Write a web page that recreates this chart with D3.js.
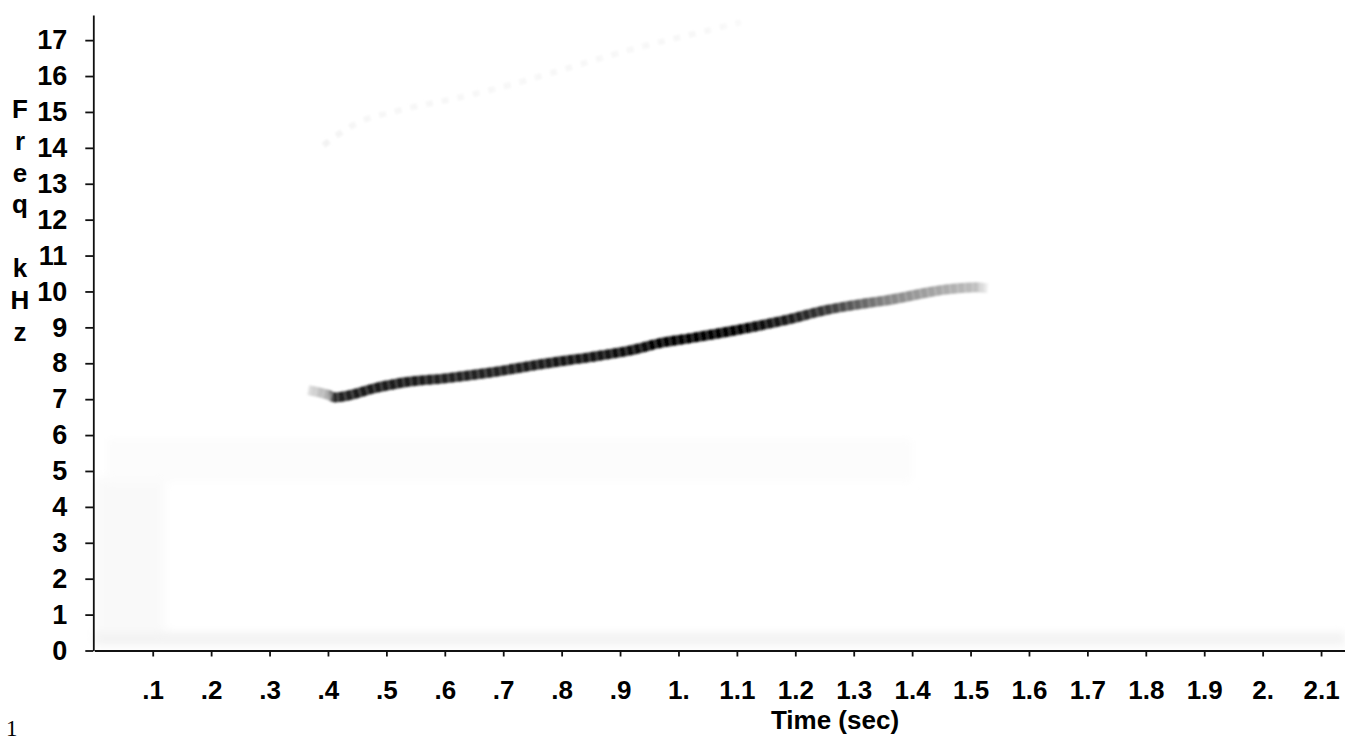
<!DOCTYPE html>
<html>
<head>
<meta charset="utf-8">
<script src="https://cdn.jsdelivr.net/npm/d3@7"></script>
<style>
  html, body { margin: 0; padding: 0; background: #fff; }
  svg { display: block; }
  .tick text, .lbl { font-family: "Liberation Sans", Arial, sans-serif; font-weight: bold; fill: #000; }
</style>
</head>
<body>
<svg id="chart" width="1345" height="740"></svg>
<script>
// Frequency axis (kHz) and time axis (s)
const freqTicks = [0, 1, 2, 3, 4, 5, 6, 7, 8, 9, 10, 11, 12, 13, 14, 15, 16, 17];
const timeTicks = [0.1, 0.2, 0.3, 0.4, 0.5, 0.6, 0.7, 0.8, 0.9, 1.0, 1.1, 1.2, 1.3, 1.4, 1.5, 1.6, 1.7, 1.8, 1.9, 2.0, 2.1];
const timeTickLabels = [".1", ".2", ".3", ".4", ".5", ".6", ".7", ".8", ".9", "1.", "1.1", "1.2", "1.3", "1.4", "1.5", "1.6", "1.7", "1.8", "1.9", "2.", "2.1"];
const yTitleChars = ["F", "r", "e", "q", "", "k", "H", "z"];

// Fundamental of the call: time (s), peak frequency (kHz), relative energy (0..1)
const callTime  = [0.366, 0.400, 0.412, 0.486, 0.532, 0.601, 0.669, 0.776, 0.849, 0.918, 0.974, 1.021, 1.098, 1.183, 1.252, 1.321, 1.355, 1.461, 1.509, 1.530];
const callFreq  = [7.25, 7.12, 7.05, 7.33, 7.47, 7.58, 7.72, 8.00, 8.17, 8.36, 8.58, 8.70, 8.92, 9.20, 9.48, 9.67, 9.75, 10.06, 10.12, 10.09];
const callLevel = [0.12, 0.32, 0.86, 0.90, 0.90, 0.86, 0.86, 0.90, 0.92, 0.94, 1.00, 1.00, 1.00, 0.90, 0.78, 0.58, 0.48, 0.32, 0.25, 0.04];

// Faint second harmonic
const harmTime  = [0.392, 0.450, 0.524, 0.627, 0.729, 0.798, 0.935, 1.038, 1.107];
const harmFreq  = [14.07, 14.69, 15.05, 15.41, 15.83, 16.16, 16.81, 17.22, 17.50];
const harmLevel = [0.05, 0.035, 0.035, 0.03, 0.03, 0.03, 0.03, 0.03, 0.025];

const svg = d3.select("#chart");
const x = d3.scaleLinear().domain([0, 2.141]).range([94.3, 1345]);
const y = d3.scaleLinear().domain([0, 17.7]).range([650.5, 15]);
const grey = d3.interpolateRgb("#ffffff", "#000000");

const defs = svg.append("defs");
defs.append("filter").attr("id", "soft")
  .attr("x", "-5%").attr("y", "-50%").attr("width", "110%").attr("height", "200%")
  .append("feGaussianBlur").attr("stdDeviation", 1.2);
defs.append("filter").attr("id", "haze")
  .attr("x", "-10%").attr("y", "-10%").attr("width", "120%").attr("height", "120%")
  .append("feGaussianBlur").attr("stdDeviation", 4);

// Background noise floor
const noise = svg.append("g").attr("filter", "url(#haze)");
noise.append("rect")
  .attr("x", x(0)).attr("width", x(2.141) - x(0))
  .attr("y", y(0.5)).attr("height", y(0.15) - y(0.5))
  .attr("fill", "#f2f2f2");
noise.append("rect")
  .attr("x", x(0)).attr("width", x(0.12) - x(0))
  .attr("y", y(4.8)).attr("height", y(0.5) - y(4.8))
  .attr("fill", "#f9f9f9");
noise.append("rect")
  .attr("x", x(0.02)).attr("width", x(1.4) - x(0.02))
  .attr("y", y(5.9)).attr("height", y(4.7) - y(5.9))
  .attr("fill", "#fcfcfc");

function trace(id, times, freqs, levels, width, dash) {
  const grad = defs.append("linearGradient").attr("id", id)
    .attr("gradientUnits", "userSpaceOnUse")
    .attr("x1", x(times[0])).attr("x2", x(times[times.length - 1]))
    .attr("y1", 0).attr("y2", 0);
  const span = x(times[times.length - 1]) - x(times[0]);
  times.forEach((t, i) => {
    grad.append("stop")
      .attr("offset", (x(t) - x(times[0])) / span)
      .attr("stop-color", grey(levels[i]));
  });
  const line = d3.line().x((d, i) => x(times[i])).y(d => y(d)).curve(d3.curveMonotoneX);
  const g = svg.append("g").attr("filter", "url(#soft)");
  g.append("path")
    .attr("d", line(freqs))
    .attr("fill", "none")
    .attr("stroke", `url(#${id})`)
    .attr("stroke-width", width)
    .attr("stroke-dasharray", dash)
    .attr("stroke-linecap", "butt");
  // frame striations of the spectrogram
  g.append("path")
    .attr("d", line(freqs))
    .attr("fill", "none")
    .attr("stroke", "#fff")
    .attr("stroke-opacity", 0.25)
    .attr("stroke-width", width + 1)
    .attr("stroke-dasharray", "1.5 6");
}

trace("harm", harmTime, harmFreq, harmLevel, 6, "7 9");
trace("call", callTime, callFreq, callLevel, 10, null);

// Axes
const yAxis = d3.axisLeft(y).tickValues(freqTicks).tickFormat(d3.format("d"))
  .tickSize(8).tickSizeOuter(0).tickPadding(18);
const gy = svg.append("g").attr("transform", `translate(${x(0) - 1},0)`).call(yAxis);
gy.selectAll("text").attr("font-size", 27);

const xAxis = d3.axisBottom(x).tickValues(timeTicks)
  .tickFormat((d, i) => timeTickLabels[i])
  .tickSize(6).tickSizeOuter(0).tickPadding(24);
const gx = svg.append("g").attr("transform", `translate(0,${y(0)})`).call(xAxis);
gx.selectAll("text").attr("font-size", 26);

svg.selectAll(".domain, .tick line").attr("stroke", "#111").attr("stroke-width", 1.8);

// Axis titles
svg.append("text").attr("class", "lbl")
  .attr("x", 835).attr("y", 729)
  .attr("text-anchor", "middle").attr("font-size", 26)
  .text("Time (sec)");

svg.append("g").selectAll("text")
  .data(yTitleChars).join("text")
  .attr("class", "lbl")
  .attr("x", 20).attr("y", (d, i) => 118 + i * 31.8)
  .attr("text-anchor", "middle").attr("font-size", 26)
  .text(d => d);

// Figure number
svg.append("text")
  .attr("x", 6).attr("y", 736)
  .attr("font-family", "Liberation Serif, serif").attr("font-size", 23)
  .attr("fill", "#000")
  .text("1");
</script>
</body>
</html>
